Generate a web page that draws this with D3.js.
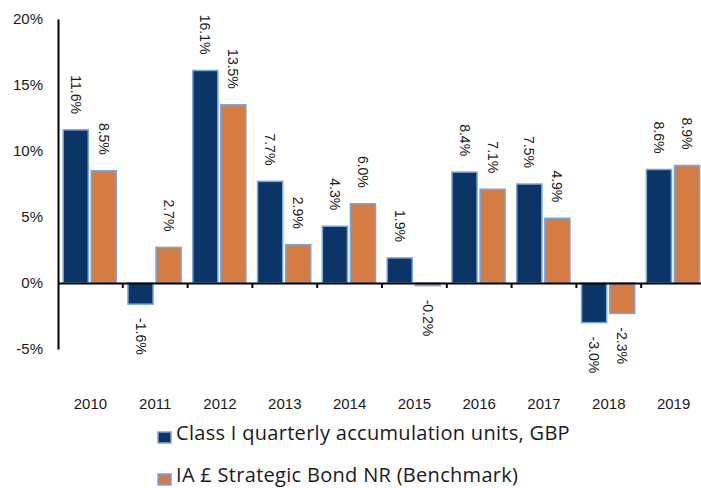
<!DOCTYPE html>
<html>
<head>
<meta charset="utf-8">
<script src="https://cdn.jsdelivr.net/npm/d3@7"></script>
<style>
  body { margin: 0; background: #fff; }
  svg { display: block; }
  .tick-lbl { font-family: "Liberation Sans", Arial, sans-serif; font-size: 15px; fill: #1a1a1a; }
  .val-lbl { font-family: "Liberation Sans", Arial, sans-serif; font-size: 14px; fill: #1a1a1a; }
  .legend-lbl { font-family: "Open Sans", sans-serif; font-size: 20px; letter-spacing: 0.3px; fill: #1a1a1a; }
</style>
</head>
<body>
<div id="chart"></div>
<script>
// DATA
var years = ["2010", "2011", "2012", "2013", "2014", "2015", "2016", "2017", "2018", "2019"];
var seriesNames = ["Class I quarterly accumulation units, GBP", "IA £ Strategic Bond NR (Benchmark)"];
var classI = [11.6, -1.6, 16.1, 7.7, 4.3, 1.9, 8.4, 7.5, -3.0, 8.6];
var benchmark = [8.5, 2.7, 13.5, 2.9, 6.0, -0.2, 7.1, 4.9, -2.3, 8.9];
var yTicks = [-5, 0, 5, 10, 15, 20];

var width = 701;
var height = 488;
var colors = ["#0a3566", "#d57c43"];

var svg = d3.select("#chart")
      .append("svg")
      .attr("width", width)
      .attr("height", height);

var xScale = d3.scaleBand()
      .domain(years)
      .range([58, 706]);

var bw = xScale.bandwidth();
var x1 = d3.scaleBand()
      .domain([0, 1])
      .range([bw * 0.08, bw * 0.9])
      .paddingInner(0.107);

var yScale = d3.scaleLinear()
      .domain([-5, 20])
      .range([349, 19]);

// rows: one per year, two values
var rows = years.map(function(y, i) {
  return { year: y, vals: [classI[i], benchmark[i]] };
});

// bars
var groups = svg.selectAll("g.year")
      .data(rows)
      .enter()
      .append("g")
      .attr("class", "year")
      .attr("transform", function(d) { return "translate(" + xScale(d.year) + ",0)"; });

groups.selectAll("rect")
      .data(function(d) { return d.vals.map(function(v, j) { return { v: v, j: j }; }); })
      .enter()
      .append("rect")
      .attr("x", function(d) { return x1(d.j); })
      .attr("y", function(d) { return yScale(Math.max(0, d.v)); })
      .attr("width", x1.bandwidth())
      .attr("height", function(d) { return Math.abs(yScale(d.v) - yScale(0)); })
      .attr("fill", function(d) { return colors[d.j]; })
      .attr("stroke", "#78a5dc")
      .attr("stroke-width", 1.5);

// value labels, rotated
groups.selectAll("text.val-lbl")
      .data(function(d) { return d.vals.map(function(v, j) { return { v: v, j: j }; }); })
      .enter()
      .append("text")
      .attr("class", "val-lbl")
      .attr("transform", function(d) {
        var cx = x1(d.j) + x1.bandwidth() / 2;
        var cy = d.v >= 0 ? yScale(d.v) - 16 : yScale(d.v) + 14;
        return "translate(" + cx + "," + cy + ") rotate(90)";
      })
      .attr("dy", "0.35em")
      .attr("text-anchor", function(d) { return d.v >= 0 ? "end" : "start"; })
      .text(function(d) { return d.v.toFixed(1) + "%"; });

// y axis
var yAxis = d3.axisLeft(yScale)
      .tickValues(yTicks)
      .tickSize(0)
      .tickPadding(15)
      .tickFormat(function(d) { return d + "%"; });

var gy = svg.append("g")
      .attr("transform", "translate(58,0)")
      .call(yAxis);
gy.select(".domain").attr("stroke", "#000").attr("stroke-width", 2);
gy.selectAll("text").attr("class", "tick-lbl").attr("font-family", null).attr("font-size", null);

// zero line with category ticks between years
var xAxis = d3.axisBottom(xScale)
      .tickValues(years.slice(1))
      .tickSize(5)
      .tickSizeOuter(0)
      .tickFormat("");

var gx = svg.append("g")
      .attr("transform", "translate(0," + yScale(0) + ")")
      .call(xAxis);
gx.select(".domain").attr("stroke", "#000").attr("stroke-width", 2);
gx.selectAll(".tick")
      .attr("transform", function(d) { return "translate(" + xScale(d) + ",0)"; });
gx.selectAll(".tick line").attr("stroke", "#000").attr("stroke-width", 2);

// year labels
svg.selectAll("text.year-lbl")
      .data(years)
      .enter()
      .append("text")
      .attr("class", "tick-lbl year-lbl")
      .attr("x", function(d) { return xScale(d) + bw / 2; })
      .attr("y", 409)
      .attr("text-anchor", "middle")
      .text(function(d) { return d; });

// legend
var legend = svg.selectAll("g.legend")
      .data(seriesNames)
      .enter()
      .append("g")
      .attr("class", "legend")
      .attr("transform", function(d, i) { return "translate(158," + (440 + i * 42) + ")"; });

legend.append("rect")
      .attr("y", -8)
      .attr("width", 13)
      .attr("height", 11)
      .attr("fill", function(d, i) { return colors[i]; })
      .attr("stroke", "#78a5dc")
      .attr("stroke-width", 1.5);

legend.append("text")
      .attr("class", "legend-lbl")
      .attr("x", 18)
      .attr("y", 0)
      .text(function(d) { return d; });
</script>
</body>
</html>
